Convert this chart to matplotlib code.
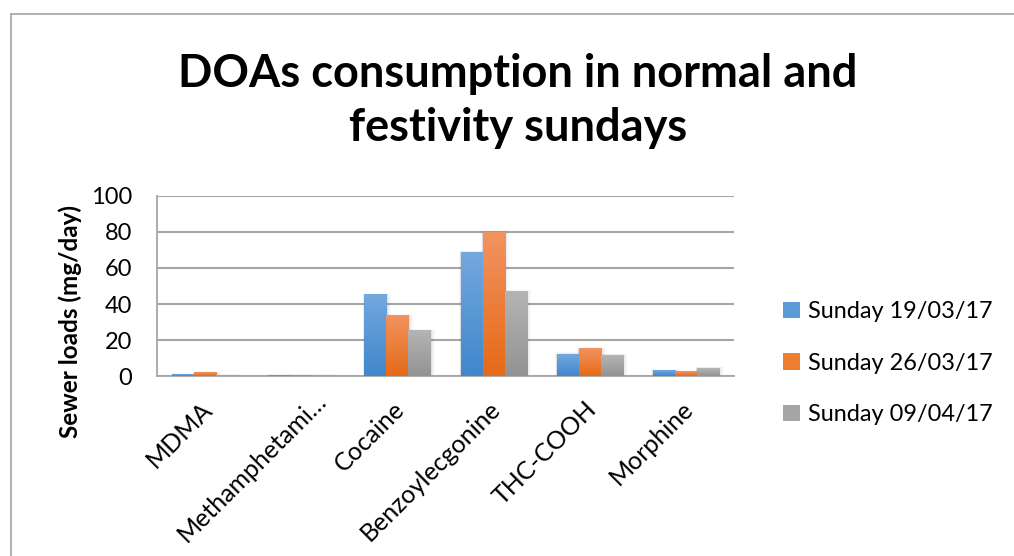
import numpy as np
import matplotlib
matplotlib.use("Agg")
import matplotlib.pyplot as plt
from matplotlib.patches import Rectangle
from matplotlib.colors import LinearSegmentedColormap
import matplotlib.transforms as mtransforms

plt.rcParams['font.family'] = ['Lato', 'DejaVu Sans']

# Data
categories = ["MDMA", "Methamphetami…", "Cocaine", "Benzoylecgonine", "THC-COOH", "Morphine"]
series_names = ["Sunday 19/03/17", "Sunday 26/03/17", "Sunday 09/04/17"]
sunday_19_03 = [0.7, 0.1, 45.0, 68.4, 12.0, 2.9]
sunday_26_03 = [1.8, 0.1, 33.4, 79.5, 15.1, 2.4]
sunday_09_04 = [0.1, 0.1, 25.1, 46.7, 11.4, 4.2]
y_ticks = [0, 20, 40, 60, 80, 100]

series = [sunday_19_03, sunday_26_03, sunday_09_04]
# (top, bottom) colours of each series' vertical gradient
grad = [("#72a8de", "#4187cc"), ("#f29360", "#e66a17"), ("#b4b4b4", "#939393")]
solid = ["#5b9bd5", "#ed7d31", "#a5a5a5"]

W, H = 1014, 556
fig = plt.figure(figsize=(W / 100, H / 100), dpi=100)
fig.patch.set_facecolor("white")

# chart frame
fig.patches.append(Rectangle((11 / W, -0.05), 1.2, 1 - 14 / H + 0.05,
                             transform=fig.transFigure, fill=False,
                             edgecolor="#a9a9a9", linewidth=1.3))

ax = fig.add_axes([157 / W, 1 - 376.3 / H, (734 - 157) / W, (376.3 - 195.7) / H])
x = np.arange(len(categories))
bw = 0.229

for i, (vals, (ctop, cbot)) in enumerate(zip(series, grad)):
    xs = x + (i - 1) * bw
    bars = ax.bar(xs, vals, width=bw, color=solid[i], zorder=3,
                  label=series_names[i], linewidth=0)
    cmap = LinearSegmentedColormap.from_list("g%d" % i, [cbot, ctop])
    for b in bars:
        x0, w, h = b.get_x(), b.get_width(), b.get_height()
        if h <= 0:
            continue
        # soft shadow
        for k, a in enumerate([0.05, 0.04, 0.03]):
            d = 0.012 * (k + 1)
            ax.add_patch(Rectangle((x0 - d * 0.4, 0), w + d * 1.6, h + 0.4 * (k + 1),
                                   facecolor="black", alpha=a, linewidth=0, zorder=2))
        ax.imshow(np.linspace(0, 1, 64).reshape(-1, 1), cmap=cmap, origin="lower",
                  extent=(x0, x0 + w, 0, h), aspect="auto", zorder=4,
                  interpolation="bilinear")
ax.set_xlim(-0.5, len(categories) - 0.5)
ax.set_ylim(0, 100)

ax.set_yticks(y_ticks)
ax.set_yticklabels([str(t) for t in y_ticks], fontsize=17)
ax.yaxis.grid(True, color="#a6a6a6", linewidth=1.5, zorder=0)
ax.set_axisbelow(True)
ax.tick_params(axis="y", length=0, pad=18)
ax.tick_params(axis="x", length=0, pad=15)
ax.set_xticks(x)
ax.set_xticklabels(categories, rotation=45, ha="right", va="top",
                   rotation_mode="anchor", fontsize=18)
for k, lbl in enumerate(ax.get_xticklabels()):
    dx, dy = (-5, 0) if k != 1 else (13, 8)
    off = mtransforms.ScaledTranslation(dx / 100, dy / 100, fig.dpi_scale_trans)
    lbl.set_transform(lbl.get_transform() + off)
for s in ["top", "right"]:
    ax.spines[s].set_visible(False)
for s in ["left", "bottom"]:
    ax.spines[s].set_color("#a6a6a6")
    ax.spines[s].set_linewidth(1.3)

fig.text(70 / W, 1 - 321 / H, "Sewer loads (mg/day)", rotation=90,
         ha="center", va="center", fontsize=17.5, fontweight="bold")

fig.text(518 / W, 1 - 101 / H, "DOAs consumption in normal and\nfestivity sundays",
         ha="center", va="center", fontsize=32.5, fontweight="bold",
         linespacing=1.35)

handles = [Rectangle((0, 0), 1, 1, facecolor=c) for c in solid]
leg = fig.legend(handles, series_names, loc="center left",
                 bbox_to_anchor=(762 / W, 1 - 363 / H), frameon=False,
                 fontsize=16.9, handlelength=0.7, handleheight=0.7,
                 handletextpad=0.35, labelspacing=1.3)

fig.savefig("out.png", dpi=100, facecolor="white")
